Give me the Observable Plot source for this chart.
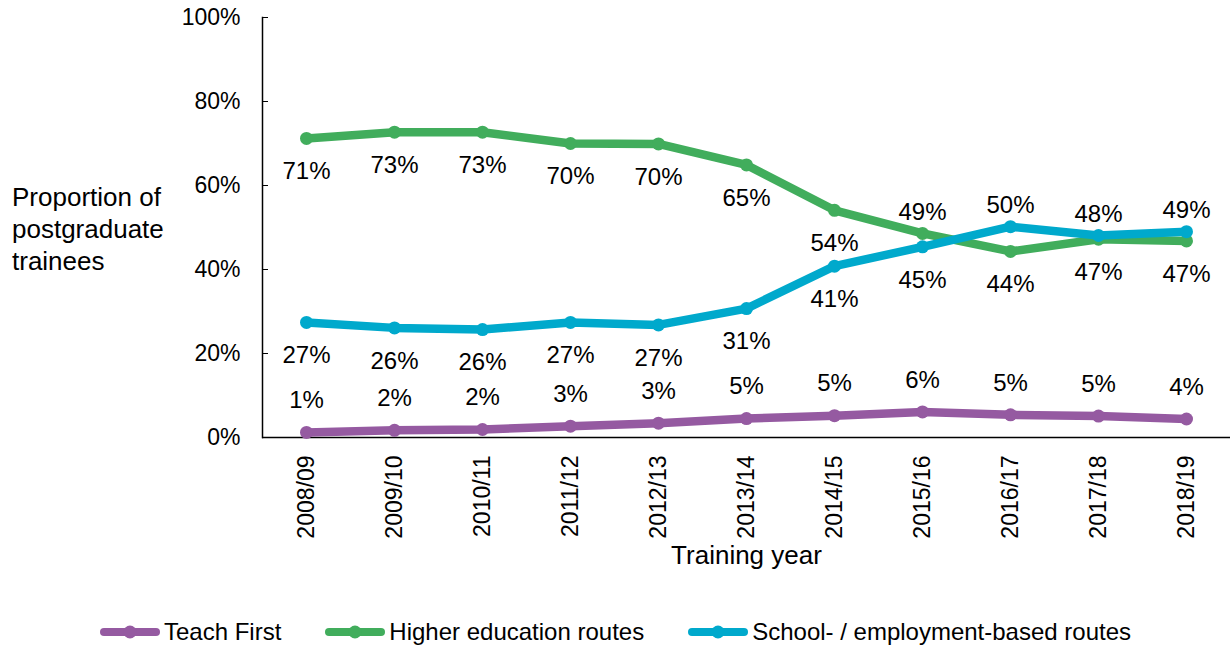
<!DOCTYPE html>
<html>
<head>
<meta charset="utf-8">
<script src="https://cdn.jsdelivr.net/npm/d3@7"></script>
<script src="https://cdn.jsdelivr.net/npm/@observablehq/plot@0.6"></script>
<style>
  html, body { margin: 0; padding: 0; background: #fff; }
  body { width: 1231px; height: 645px; position: relative; overflow: hidden;
         font-family: "Liberation Sans", Arial, sans-serif; color: #000; }
  #ytitle { position: absolute; left: 12px; top: 181px; font-size: 26px; line-height: 32px; }
  #legend { position: absolute; left: 0; width: 1231px; top: 617px; display: flex;
            justify-content: center; gap: 44px; font-size: 24px; line-height: 30px; }
  .item { display: flex; align-items: center; gap: 4px; }
</style>
</head>
<body>
<div id="chart"></div>
<div id="ytitle">Proportion of<br>postgraduate<br>trainees</div>
<div id="legend"></div>
<script>
const years = ["2008/09","2009/10","2010/11","2011/12","2012/13","2013/14","2014/15","2015/16","2016/17","2017/18","2018/19"];
const seriesNames = ["Teach First", "Higher education routes", "School- / employment-based routes"];
const seriesColors = ["#955AA1", "#41AD5C", "#00A9CC"];
const teachFirst = [1.2, 1.7, 1.9, 2.7, 3.4, 4.5, 5.2, 6.1, 5.4, 5.1, 4.4];
const higherEd   = [71.2, 72.7, 72.7, 70.0, 69.9, 64.9, 54.1, 48.6, 44.3, 47.2, 46.8];
const schoolBased= [27.4, 26.1, 25.7, 27.4, 26.8, 30.7, 40.8, 45.4, 50.2, 48.1, 49.0];
const teachFirstPos = ["above","above","above","above","above","above","above","above","above","above","above"];
const higherEdPos   = ["below","below","below","below","below","below","below","above","below","below","below"];
const schoolPos     = ["below","below","below","below","below","below","below","below","above","above","above"];
const yTicks = [0, 20, 40, 60, 80, 100];

const seriesValues = [teachFirst, higherEd, schoolBased];
const seriesPos = [teachFirstPos, higherEdPos, schoolPos];
const data = [];
seriesNames.forEach((s, i) => years.forEach((yr, j) =>
  data.push({series: s, year: yr, value: seriesValues[i][j], pos: seriesPos[i][j], si: i})));

const marks = [
  Plot.axisY({ticks: yTicks, tickFormat: d => d + "%", tickSize: -6, tickPadding: 28, label: null, fontSize: 23}),
  Plot.axisX({tickRotate: -90, tickSize: 0, tickPadding: 18, label: null, fontSize: 23}),
  Plot.frame({anchor: "left", stroke: "#000", strokeWidth: 1.5}),
  Plot.ruleY([0], {stroke: "#000", strokeWidth: 1.5}),
  Plot.text(["Training year"], {frameAnchor: "bottom", dy: 126, fontSize: 26, text: d => d, fill: "#000"})
];
seriesNames.forEach((s, i) => {
  const sd = data.filter(d => d.series === s);
  marks.push(Plot.line(sd, {x: "year", y: "value", stroke: seriesColors[i], strokeWidth: 8.5, strokeLinejoin: "round", strokeLinecap: "round"}));
  marks.push(Plot.dot(sd, {x: "year", y: "value", fill: seriesColors[i], r: 6.5}));
});
["below", "aboveTF", "aboveOther"].forEach(k => {
  const sd = data.filter(d => k === "below" ? d.pos === "below" : (k === "aboveTF" ? d.pos === "above" && d.si === 0 : d.pos === "above" && d.si !== 0));
  const dy = k === "below" ? 33 : (k === "aboveTF" ? -32 : -21);
  marks.push(Plot.text(sd, {x: "year", y: "value", text: d => Math.round(d.value) + "%", dy, fill: "#000", fontSize: 24}));
});

const chart = Plot.plot({
  width: 1231, height: 585,
  marginLeft: 262, marginRight: 1, marginTop: 17, marginBottom: 148,
  style: {fontFamily: "'Liberation Sans', Arial, sans-serif", fontSize: "23px", color: "#000", background: "white", overflow: "visible"},
  x: {type: "point", domain: years, padding: 0.5},
  y: {domain: [0, 100]},
  marks
});
document.getElementById("chart").appendChild(chart);

const legend = document.getElementById("legend");
seriesNames.forEach((s, i) => {
  const item = document.createElement("div");
  item.className = "item";
  item.innerHTML = `<svg width="60" height="16"><line x1="4" y1="8" x2="56" y2="8" stroke="${seriesColors[i]}" stroke-width="8" stroke-linecap="round"/><circle cx="30" cy="8" r="6.5" fill="${seriesColors[i]}"/></svg><span>${s}</span>`;
  legend.appendChild(item);
});
</script>
</body>
</html>
